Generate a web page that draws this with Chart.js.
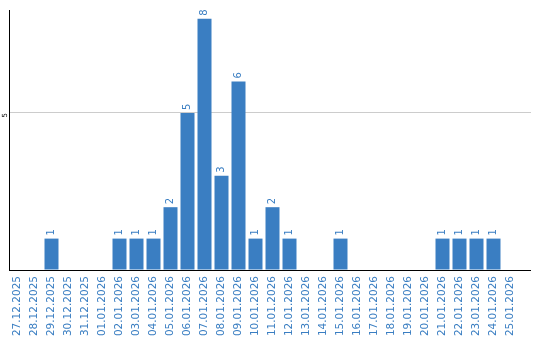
<!DOCTYPE html>
<html>
<head>
<meta charset="utf-8">
<script src="https://cdn.jsdelivr.net/npm/chart.js@4"></script>
<style>
  html, body { margin: 0; padding: 0; background: #fff; }
  #wrap { width: 540px; height: 340px; }
</style>
</head>
<body>
<div id="wrap"><canvas id="myChart"></canvas></div>
<script>
const days = [
  '27.12.2025', '28.12.2025', '29.12.2025', '30.12.2025', '31.12.2025',
  '01.01.2026', '02.01.2026', '03.01.2026', '04.01.2026', '05.01.2026',
  '06.01.2026', '07.01.2026', '08.01.2026', '09.01.2026', '10.01.2026',
  '11.01.2026', '12.01.2026', '13.01.2026', '14.01.2026', '15.01.2026',
  '16.01.2026', '17.01.2026', '18.01.2026', '19.01.2026', '20.01.2026',
  '21.01.2026', '22.01.2026', '23.01.2026', '24.01.2026', '25.01.2026'
];
const counts = [
  0, 0, 1, 0, 0,
  0, 1, 1, 1, 2,
  5, 8, 3, 6, 1,
  2, 1, 0, 0, 1,
  0, 0, 0, 0, 0,
  1, 1, 1, 1, 0
];
const yTicks = [0, 5];
const yMax = 8.28;

const blue = '#3a7ec2';

Chart.defaults.font.family = "'DejaVu Sans', sans-serif";

// same rounding Chart.js uses for 1px lines
function align(p) {
  return Math.round(p - 0.5) + 0.5;
}

// value written above each bar, turned on its side
const barLabels = {
  id: 'barLabels',
  afterDatasetsDraw(chart) {
    const ctx = chart.ctx;
    const meta = chart.getDatasetMeta(0);
    ctx.save();
    ctx.fillStyle = blue;
    ctx.font = "10px 'DejaVu Sans'";
    ctx.textAlign = 'left';
    ctx.textBaseline = 'middle';
    meta.data.forEach((bar, i) => {
      const v = counts[i];
      if (!v) return;
      ctx.save();
      ctx.translate(bar.x, bar.y - 3);
      ctx.rotate(-Math.PI / 2);
      ctx.fillText(String(v), 0, 0);
      ctx.restore();
    });
    ctx.restore();
  }
};

// baseline and grid line run a little past the last category
const axisTail = {
  id: 'axisTail',
  afterDraw(chart) {
    const ctx = chart.ctx;
    const area = chart.chartArea;
    const y = chart.scales.y;
    const tail = 12;
    ctx.save();
    ctx.lineWidth = 1;
    ctx.strokeStyle = '#cccccc';
    const g = align(y.getPixelForValue(5));
    ctx.beginPath();
    ctx.moveTo(area.right - 1, g);
    ctx.lineTo(area.right + tail, g);
    ctx.stroke();
    ctx.strokeStyle = '#000';
    const b = align(area.bottom);
    ctx.beginPath();
    ctx.moveTo(area.right - 1, b);
    ctx.lineTo(area.right + tail, b);
    ctx.stroke();
    ctx.restore();
  }
};

const ctx = document.getElementById('myChart').getContext('2d');
const myChart = new Chart(ctx, {
  type: 'bar',
  data: {
    labels: days,
    datasets: [{
      data: counts,
      backgroundColor: blue,
      borderWidth: 0,
      categoryPercentage: 1,
      barPercentage: 14 / 17
    }]
  },
  options: {
    responsive: true,
    maintainAspectRatio: false,
    animation: false,
    layout: { padding: { top: 10, right: 21, left: 0, bottom: 0 } },
    plugins: {
      legend: { display: false },
      tooltip: { enabled: false }
    },
    scales: {
      x: {
        grid: { display: false, drawTicks: false },
        border: { display: true, color: '#000', width: 1 },
        ticks: {
          color: blue,
          font: { size: 10.5 },
          minRotation: 90,
          maxRotation: 90,
          padding: 6,
          autoSkip: false
        },
        afterFit(scale) { scale.height = 70; }
      },
      y: {
        min: 0,
        max: yMax,
        afterBuildTicks(scale) { scale.ticks = yTicks.map(v => ({ value: v })); },
        grid: {
          drawTicks: false,
          color: c => (c.tick && c.tick.value === 5) ? '#cccccc' : 'rgba(0,0,0,0)'
        },
        border: { display: true, color: '#000', width: 1 },
        ticks: {
          color: '#000',
          font: { size: 7 },
          minRotation: 90,
          maxRotation: 90,
          padding: 4,
          callback: v => (v === 0 ? '' : String(v))
        },
        afterFit(scale) { scale.width = 9; }
      }
    }
  },
  plugins: [barLabels, axisTail]
});
</script>
</body>
</html>
